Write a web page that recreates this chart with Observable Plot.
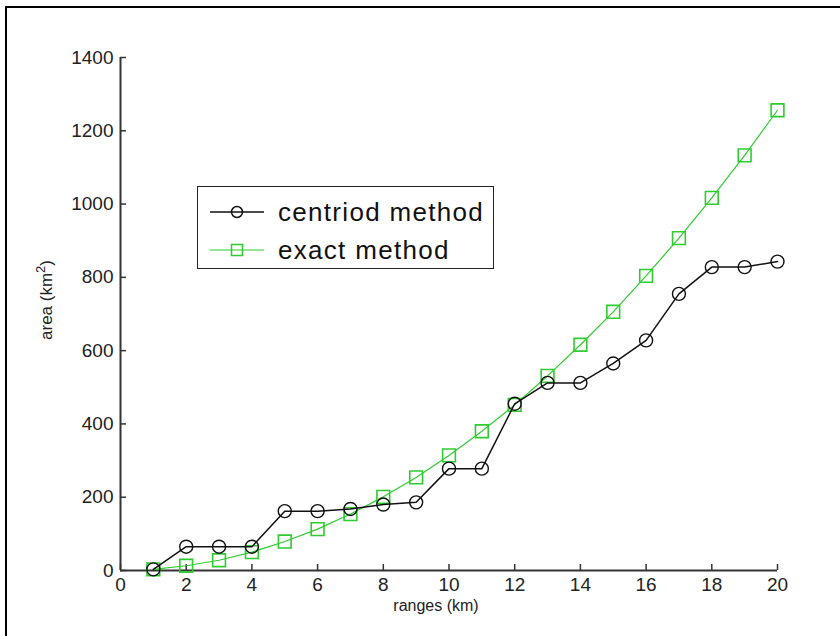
<!DOCTYPE html>
<html>
<head>
<meta charset="utf-8">
<script src="https://cdn.jsdelivr.net/npm/d3@7"></script>
<script src="https://cdn.jsdelivr.net/npm/@observablehq/plot@0.6"></script>
<style>
  html, body { margin: 0; padding: 0; background: #fff; overflow: hidden; }
  #wrap { position: relative; width: 840px; height: 636px; overflow: hidden; background: #fff; }
  #frame { position: absolute; left: 5px; top: 6px; width: 900px; height: 900px; border: 2px solid #000; box-sizing: border-box; pointer-events: none; }
  #legend { position: absolute; left: 197px; top: 186px; width: 297px; height: 83px; border: 1.5px solid #222; box-sizing: border-box; background: #fff; font-family: "Liberation Sans", Arial, sans-serif; font-size: 26px; letter-spacing: 1.3px; color: #111; }
  .row { position: absolute; left: 0; height: 30px; display: flex; align-items: center; white-space: nowrap; }
  .row svg { margin-left: 12px; margin-right: 14px; }
</style>
</head>
<body>
<div id="wrap">
  <div id="chart"></div>
  <div id="frame"></div>
  <div id="legend">
    <div class="row" style="top:10px">
      <svg width="54" height="20"><line x1="0" y1="10" x2="54" y2="10" stroke="#111" stroke-width="1.5"/><circle cx="27" cy="10" r="5.5" fill="none" stroke="#111" stroke-width="1.5"/></svg>
      <span id="leg0"></span>
    </div>
    <div class="row" style="top:48px">
      <svg width="54" height="20"><line x1="0" y1="10" x2="54" y2="10" stroke="#2ecc2e" stroke-width="1.2"/><rect x="21.5" y="4.5" width="11" height="11" fill="none" stroke="#2ecc2e" stroke-width="1.5"/></svg>
      <span id="leg1"></span>
    </div>
  </div>
</div>
<script>
const ranges = [1,2,3,4,5,6,7,8,9,10,11,12,13,14,15,16,17,18,19,20];
const centroidArea = [3,65,65,65,162,162,168,180,186,278,278,455,512,512,565,628,755,828,828,843];
const exactArea = [3,13,28,50,79,113,154,201,254,314,380,452,531,616,706,804,907,1017,1133,1256];
const xTicks = [0,2,4,6,8,10,12,14,16,18,20];
const yTicks = [0,200,400,600,800,1000,1200,1400];
const seriesNames = ["centriod method", "exact method"];

document.getElementById("leg0").textContent = seriesNames[0];
document.getElementById("leg1").textContent = seriesNames[1];

const centroid = ranges.map((r, i) => ({x: r, y: centroidArea[i]}));
const exact = ranges.map((r, i) => ({x: r, y: exactArea[i]}));

const green = "#2ecc2e";
const black = "#111";
const fmt = d => String(d);

const W = 840, H = 636, mL = 120, mR = 63, mT = 57, mB = 66, tickLen = 6;

const plot = Plot.plot({
  width: W,
  height: H,
  marginLeft: mL,
  marginRight: mR,
  marginTop: mT,
  marginBottom: mB,
  style: {fontFamily: "Liberation Sans, Arial, sans-serif", fontSize: "19px", color: "#222", background: "#fff"},
  x: {domain: [0, 20]},
  y: {domain: [0, 1400]},
  marks: [
    Plot.axisX({ticks: xTicks, tickSize: 0, tickPadding: 7, fontSize: 19, label: null, tickFormat: fmt}),
    Plot.axisY({ticks: yTicks, tickSize: 0, tickPadding: 7, fontSize: 19, label: null, tickFormat: fmt}),
    // inward tick marks
    Plot.tickX(xTicks, {x: d => d, insetTop: (H - mT - mB) - tickLen, stroke: "#333", strokeWidth: 1.5}),
    Plot.tickY(yTicks, {y: d => d, insetRight: (W - mL - mR) - tickLen, stroke: "#333", strokeWidth: 1.5}),
    Plot.ruleY([0], {stroke: "#333", strokeWidth: 2}),
    Plot.ruleX([0], {stroke: "#333", strokeWidth: 2}),
    Plot.line(exact, {x: "x", y: "y", stroke: green, strokeWidth: 1.2}),
    Plot.dot(exact, {x: "x", y: "y", symbol: "square", r: 7.2, stroke: green, strokeWidth: 1.6, fill: "none"}),
    Plot.line(centroid, {x: "x", y: "y", stroke: black, strokeWidth: 1.5}),
    Plot.dot(centroid, {x: "x", y: "y", symbol: "circle", r: 6.5, stroke: black, strokeWidth: 1.4, fill: "none"}),
    Plot.text(["ranges (km)"], {frameAnchor: "bottom", dy: 40, dx: -13, fontSize: 16, fill: "#222"}),
    Plot.text(["area (km2)"], {frameAnchor: "left", textAnchor: "middle", dx: -74, dy: -14, rotate: -90, fontSize: 17, fill: "#222", className: "ylab"})
  ]
});
document.getElementById("chart").append(plot);

// superscript the "2" in the y label
const yl = plot.querySelector(".ylab text");
if (yl) {
  yl.textContent = "";
  const ns = "http://www.w3.org/2000/svg";
  const t1 = document.createElementNS(ns, "tspan"); t1.textContent = "area (km";
  const t2 = document.createElementNS(ns, "tspan"); t2.textContent = "2"; t2.setAttribute("dy", "-7"); t2.setAttribute("font-size", "13");
  const t3 = document.createElementNS(ns, "tspan"); t3.textContent = ")"; t3.setAttribute("dy", "7");
  yl.append(t1, t2, t3);
}
</script>
</body>
</html>
